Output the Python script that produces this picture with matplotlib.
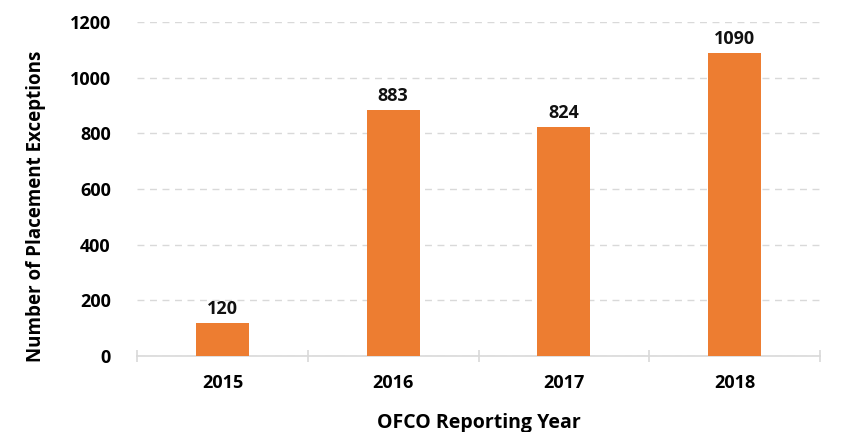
import matplotlib
matplotlib.use("Agg")
import matplotlib.pyplot as plt
from matplotlib.ticker import FixedLocator

years = ["2015", "2016", "2017", "2018"]
values = [120, 883, 824, 1090]
yticks = [0, 200, 400, 600, 800, 1000, 1200]

plt.rcParams['font.family'] = ['Open Sans', 'DejaVu Sans']

fig = plt.figure(figsize=(8.47, 4.32), dpi=100)
ax = fig.add_axes([0.162, 0.176, 0.806, 0.773])

x = list(range(len(years)))
bars = ax.bar(x, values, width=0.31, color="#ED7D31", zorder=3)
for xi, v in zip(x, values):
    ax.text(xi, v + 18, str(v), ha="center", va="bottom", fontsize=13,
            fontweight="bold", color="#111111")

ax.set_xlim(-0.5, len(years) - 0.5)
ax.set_ylim(0, 1200)
ax.set_yticks(yticks)
ax.set_yticklabels([str(t) for t in yticks], fontsize=13, fontweight="bold")
ax.set_xticks(x)
ax.set_xticklabels(years, fontsize=13, fontweight="bold")
ax.tick_params(axis="x", which="major", length=0, pad=13)
ax.tick_params(axis="y", length=0, pad=19)
ax.xaxis.set_minor_locator(FixedLocator([-0.5, 0.5, 1.5, 2.5, 3.5]))
ax.tick_params(axis="x", which="minor", length=8, direction="inout",
               color="#D9D9D9", width=1.2)

ax.yaxis.grid(True, linestyle=(0, (5, 4)), color="#D9D9D9", linewidth=1, zorder=0)
for s in ["top", "right", "left"]:
    ax.spines[s].set_visible(False)
ax.spines["bottom"].set_color("#D9D9D9")
ax.spines["bottom"].set_linewidth(1.2)

ax.set_xlabel("OFCO Reporting Year", fontsize=14, fontweight="bold", labelpad=15)
ax.set_ylabel("Number of Placement Exceptions", fontsize=13.5, fontweight="bold", labelpad=16)
ax.yaxis.set_label_coords(-0.134, 0.449)

fig.savefig("out.png", dpi=100, facecolor="white")
